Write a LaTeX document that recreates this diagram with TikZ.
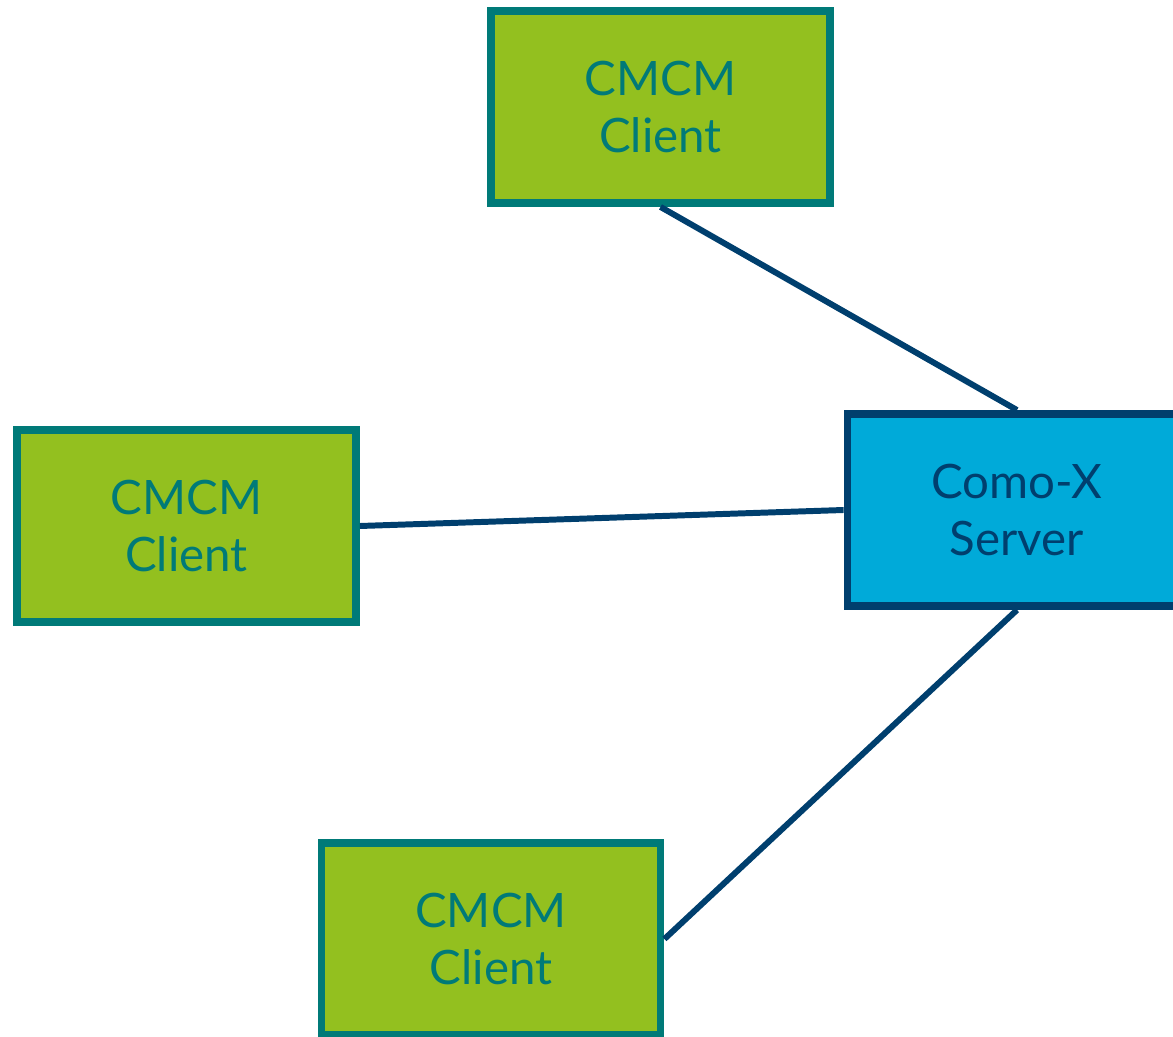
\documentclass[tikz,border=0pt]{standalone}
\usepackage{fontspec}
\setmainfont{Lato}
\definecolor{clientgreen}{HTML}{93C01F}
\definecolor{clientteal}{HTML}{007A78}
\definecolor{servercyan}{HTML}{00AAD9}
\definecolor{servernavy}{HTML}{003F6E}
\tikzset{
  clientbox/.style={draw=clientteal,fill=clientgreen,line width=4.5pt,
    minimum width=6.78cm,minimum height=3.84cm,text=clientteal,
    font=\fontsize{27}{32}\selectfont,align=center},
  serverbox/.style={draw=servernavy,fill=servercyan,line width=4.5pt,
    minimum width=6.78cm,minimum height=3.84cm,text=servernavy,
    font=\fontsize{27}{32}\selectfont,align=center},
  wire/.style={draw=servernavy,line width=3.4pt}
}
\begin{document}
\begin{tikzpicture}[x=0.02cm,y=-0.02cm]
\useasboundingbox (0,0) rectangle (1173,1037);
\clip (0,0) rectangle (1173,1037);
\node[clientbox] (top) at (660.5,107) {CMCM\\Client};
\node[clientbox] (left) at (186.5,526) {CMCM\\Client};
\node[clientbox] (bottom) at (491,939) {CMCM\\Client};
\node[serverbox] (server) at (1017,510) {Como-X\\Server};
%connectors
\draw[wire] (top.south) -- (server.north);
\draw[wire] (left.east) -- (server.west);
\draw[wire] (bottom.east) -- (server.south);
\end{tikzpicture}
\end{document}
